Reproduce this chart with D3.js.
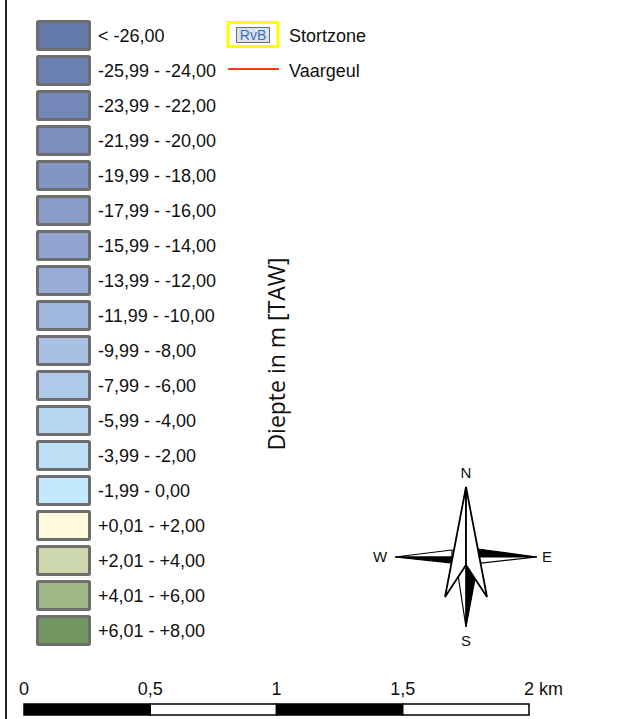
<!DOCTYPE html>
<html>
<head>
<meta charset="utf-8">
<script src="https://cdn.jsdelivr.net/npm/d3@7"></script>
<style>
  html, body { margin: 0; padding: 0; background: #fff; }
  svg { display: block; }
</style>
</head>
<body>
<svg id="chart" width="635" height="719"></svg>
<script>
// ---- data ----
const classLabels = [
  "< -26,00", "-25,99 - -24,00", "-23,99 - -22,00", "-21,99 - -20,00",
  "-19,99 - -18,00", "-17,99 - -16,00", "-15,99 - -14,00", "-13,99 - -12,00",
  "-11,99 - -10,00", "-9,99 - -8,00", "-7,99 - -6,00", "-5,99 - -4,00",
  "-3,99 - -2,00", "-1,99 - 0,00", "+0,01 - +2,00", "+2,01 - +4,00",
  "+4,01 - +6,00", "+6,01 - +8,00"
];
const classColors = [
  "#6279a9", "#6a80b0", "#7388b8", "#7b8fbd", "#8296c3", "#899dc8",
  "#91a5d0", "#98add5", "#a0b7dd", "#a7c0e4", "#aec9ea", "#b5d5f1",
  "#bde0f7", "#c3e9fe", "#fef8dc", "#cdd8ae", "#9fb786", "#729660"
];
const otherLegend = ["Stortzone", "Vaargeul"];
const scaleTicks = [0, 0.5, 1, 1.5, 2];
const scaleTickLabels = ["0", "0,5", "1", "1,5", "2 km"];
const compassLabels = ["N", "E", "S", "W"];
const axisTitle = "Diepte in m [TAW]";

const svg = d3.select("#chart");
const FONT = "'Liberation Sans', Arial, sans-serif";
const FS = 18;

// left frame line
svg.append("line").attr("x1", 6).attr("x2", 6).attr("y1", 0).attr("y2", 719)
  .attr("stroke", "#222").attr("stroke-width", 2);

// ---- legend of classes ----
const yRow = d3.scaleBand().domain(d3.range(classLabels.length))
  .range([18, 18 + 35 * classLabels.length]).paddingInner(0.2).paddingOuter(0.1);

const rows = svg.append("g").selectAll("g").data(classLabels).join("g")
  .attr("transform", (d, i) => `translate(0,${yRow(i)})`);
rows.append("rect")
  .attr("x", 37.5).attr("y", 0)
  .attr("width", 52).attr("height", yRow.bandwidth())
  .attr("fill", (d, i) => classColors[i])
  .attr("stroke", "#6e6e6e").attr("stroke-width", 3).attr("rx", 1);
rows.append("text")
  .attr("x", 98).attr("y", yRow.bandwidth() / 2 + 0.5)
  .attr("dy", "0.36em")
  .attr("font-family", FONT).attr("font-size", FS).attr("fill", "#111")
  .text(d => d);

// ---- other legend ----
const g2 = svg.append("g");
g2.append("rect").attr("x", 228).attr("y", 22.5).attr("width", 50).attr("height", 24)
  .attr("fill", "none").attr("stroke", "#ffff00").attr("stroke-width", 3);
g2.append("rect").attr("x", 236.5).attr("y", 27.5).attr("width", 33).attr("height", 15)
  .attr("fill", "#dbe3ee").attr("stroke", "#6e6e6e").attr("stroke-width", 1);
g2.append("text").attr("x", 253).attr("y", 35).attr("dy", "0.36em")
  .attr("text-anchor", "middle").attr("font-family", FONT).attr("font-size", 14)
  .attr("fill", "#3a6fc0").text("RvB");
g2.append("text").attr("x", 289).attr("y", 35.5).attr("dy", "0.36em")
  .attr("font-family", FONT).attr("font-size", FS).attr("fill", "#111").text(otherLegend[0]);
g2.append("line").attr("x1", 228).attr("x2", 279).attr("y1", 69).attr("y2", 69)
  .attr("stroke", "#ff3a1a").attr("stroke-width", 2);
g2.append("text").attr("x", 289).attr("y", 70.5).attr("dy", "0.36em")
  .attr("font-family", FONT).attr("font-size", FS).attr("fill", "#111").text(otherLegend[1]);

// ---- axis title ----
svg.append("text")
  .attr("transform", "translate(285,354) rotate(-90)")
  .attr("text-anchor", "middle")
  .attr("font-family", "'Open Sans', 'Noto Sans', sans-serif").attr("font-size", 23)
  .attr("fill", "#111").text(axisTitle);

// ---- compass ----
const cx = 466, cy = 557;
const comp = svg.append("g").attr("stroke", "#000").attr("stroke-width", 1.2)
  .attr("stroke-linejoin", "miter");
const P = pts => pts.map(p => [cx + p[0], cy + p[1]]);
const line = d3.line();
// East arm
comp.append("path").attr("d", line(P([[12, -8], [71, 0], [12, 0]])) + "Z").attr("fill", "#000");
comp.append("path").attr("d", line(P([[12, 0], [71, 0], [15, 6]])) + "Z").attr("fill", "#fff");
// West arm
comp.append("path").attr("d", line(P([[-14, -7], [-71, 0], [-14, 0]])) + "Z").attr("fill", "#fff");
comp.append("path").attr("d", line(P([[-14, 0], [-71, 0], [-14, 6]])) + "Z").attr("fill", "#000");
// South needle
comp.append("path").attr("d", line(P([[0, 8], [-8, 18], [0, 70]])) + "Z").attr("fill", "#fff");
comp.append("path").attr("d", line(P([[0, 8], [9, 22], [0, 70]])) + "Z").attr("fill", "#000");
// North arrow
comp.append("path").attr("d", line(P([[0, -70], [-21, 40], [0, 8]])) + "Z").attr("fill", "#fff")
  .attr("stroke-width", 1.8);
comp.append("path").attr("d", line(P([[0, -70], [21, 40], [0, 8]])) + "Z").attr("fill", "#fff")
  .attr("stroke-width", 1.8);
const dirPos = { N: [0, -84], E: [81, 0], S: [0, 84], W: [-86, 0] };
svg.append("g").selectAll("text").data(compassLabels).join("text")
  .attr("x", d => cx + dirPos[d][0]).attr("y", d => cy + dirPos[d][1])
  .attr("dy", "0.36em").attr("text-anchor", "middle")
  .attr("font-family", FONT).attr("font-size", 15).attr("fill", "#111")
  .text(d => d);

// ---- scale bar ----
const xs = d3.scaleLinear().domain([0, 2]).range([24, 529]);
const sb = svg.append("g");
const segs = d3.range(scaleTicks.length - 1);
sb.selectAll("rect").data(segs).join("rect")
  .attr("x", i => xs(scaleTicks[i])).attr("y", 704)
  .attr("width", i => xs(scaleTicks[i + 1]) - xs(scaleTicks[i]))
  .attr("height", 11)
  .attr("fill", i => i % 2 === 0 ? "#000" : "#fff")
  .attr("stroke", "#000").attr("stroke-width", 1.5);
sb.selectAll("text").data(scaleTicks).join("text")
  .attr("x", d => xs(d))
  .attr("y", 695)
  .attr("text-anchor", (d, i) => i === scaleTicks.length - 1 ? "start" : "middle")
  .attr("dx", (d, i) => i === scaleTicks.length - 1 ? -5 : 0)
  .attr("font-family", FONT).attr("font-size", FS).attr("fill", "#111")
  .text((d, i) => scaleTickLabels[i]);
</script>
</body>
</html>
